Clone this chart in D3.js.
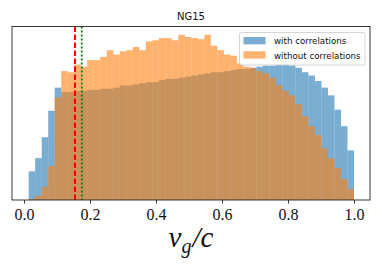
<!DOCTYPE html>
<html>
<head>
<meta charset="utf-8">
<title>NG15 group velocity</title>
<script src="https://d3js.org/d3.v7.min.js"></script>
<style>
  body { margin: 0; background: white; }
  svg { display: block; }
</style>
</head>
<body>
<script>
// histogram densities, 50 bins between binStart and binEnd
const binStart = 0.0142;
const binEnd = 1.0;
const withCorr = [
  0.26, 0.38, 0.57, 0.81, 1.02, 0.98, 0.98, 0.99, 0.99, 1.00,
  1.00, 1.01, 1.01, 1.02, 1.04, 1.04, 1.05, 1.06, 1.07, 1.07,
  1.09, 1.10, 1.10, 1.11, 1.12, 1.13, 1.14, 1.15, 1.16, 1.16,
  1.17, 1.18, 1.19, 1.19, 1.20, 1.21, 1.22, 1.22, 1.23, 1.23,
  1.22, 1.20, 1.16, 1.13, 1.08, 1.02, 0.95, 0.82, 0.67, 0.45
];
const withoutCorr = [
  0.01, 0.04, 0.12, 0.31, 0.93, 1.17, 1.16, 1.23, 1.21, 1.27,
  1.27, 1.30, 1.36, 1.32, 1.35, 1.36, 1.39, 1.36, 1.44, 1.45,
  1.47, 1.47, 1.45, 1.50, 1.48, 1.47, 1.46, 1.50, 1.40, 1.36,
  1.32, 1.31, 1.24, 1.21, 1.20, 1.17, 1.15, 1.11, 1.04, 0.99,
  0.95, 0.87, 0.76, 0.67, 0.59, 0.47, 0.38, 0.29, 0.19, 0.10
];
const seriesNames = ["with correlations", "without correlations"];
const xTicks = [0.0, 0.2, 0.4, 0.6, 0.8, 1.0];
const redLineX = 0.1545;   // dashed
const greenLineX = 0.175;  // dotted

const W = 382, H = 268;
const plot = {left: 12, right: 370, top: 26.5, bottom: 200};

var svg = d3.select("body").append("svg")
    .attr("width", W)
    .attr("height", H);

svg.append("rect").attr("width", W).attr("height", H).attr("fill", "white");

var x = d3.scaleLinear().domain([-0.0364, 1.0485]).range([plot.left, plot.right]);
var yMax = d3.max(withoutCorr.concat(withCorr)) * 1.05;
var y = d3.scaleLinear().domain([0, yMax]).range([plot.bottom, plot.top]);

var binW = (binEnd - binStart) / withCorr.length;

function drawHist(values, color) {
  svg.append("g").selectAll("rect")
    .data(values)
    .join("rect")
      .attr("x", (d, i) => x(binStart + i * binW))
      .attr("width", (d, i) => x(binStart + (i + 1) * binW) - x(binStart + i * binW))
      .attr("y", d => y(d))
      .attr("height", d => y(0) - y(d))
      .attr("fill", color)
      .attr("fill-opacity", 0.6);
}
drawHist(withCorr, "#1f77b4");
drawHist(withoutCorr, "#ff7f0e");

// vertical reference lines
svg.append("line")
    .attr("x1", x(redLineX)).attr("x2", x(redLineX))
    .attr("y1", plot.top).attr("y2", plot.bottom)
    .attr("stroke", "red").attr("stroke-width", 2)
    .attr("stroke-dasharray", "5.5,2.5");
svg.append("line")
    .attr("x1", x(greenLineX)).attr("x2", x(greenLineX))
    .attr("y1", plot.top).attr("y2", plot.bottom)
    .attr("stroke", "green").attr("stroke-width", 1.8)
    .attr("stroke-dasharray", "2,2");

// frame
svg.append("rect")
    .attr("x", plot.left).attr("y", plot.top)
    .attr("width", plot.right - plot.left).attr("height", plot.bottom - plot.top)
    .attr("fill", "none").attr("stroke", "#222").attr("stroke-width", 0.9);

// x axis
var xAxis = svg.append("g")
    .attr("transform", "translate(0," + plot.bottom + ")")
    .call(d3.axisBottom(x).tickValues(xTicks).tickFormat(d3.format(".1f")).tickSize(3.5).tickPadding(5));
xAxis.select(".domain").remove();
xAxis.selectAll("line").attr("stroke", "#222").attr("stroke-width", 0.9);
xAxis.selectAll("text")
    .attr("font-family", "'Liberation Serif', 'DejaVu Serif', serif")
    .attr("font-size", 16)
    .attr("fill", "#111");

// axis label v_g/c
var lab = svg.append("text")
    .attr("x", x(0.5) + 2).attr("y", 247)
    .attr("text-anchor", "middle")
    .attr("font-family", "'Liberation Serif', 'DejaVu Serif', serif")
    .attr("font-style", "italic")
    .attr("font-size", 29)
    .attr("fill", "#111");
lab.append("tspan").text("v");
lab.append("tspan").attr("dy", 6).attr("font-size", 20).text("g");
lab.append("tspan").attr("dy", -6).attr("dx", 1).text("/c");

// title
svg.append("text")
    .attr("x", 191).attr("y", 20)
    .attr("text-anchor", "middle")
    .attr("font-family", "'DejaVu Sans', sans-serif")
    .attr("font-size", 10)
    .attr("fill", "#111")
    .text("NG15");

// legend
var leg = svg.append("g");
leg.append("rect")
    .attr("x", 239.5).attr("y", 32.5).attr("width", 125.5).attr("height", 32.5)
    .attr("rx", 2)
    .attr("fill", "white").attr("fill-opacity", 0.8)
    .attr("stroke", "#ccc").attr("stroke-width", 0.8);
var legColors = ["#1f77b4", "#ff7f0e"];
seriesNames.forEach(function(name, i) {
  leg.append("rect")
      .attr("x", 243.5).attr("y", 37 + i * 14.3)
      .attr("width", 22).attr("height", 7.3)
      .attr("fill", legColors[i]).attr("fill-opacity", 0.6);
  leg.append("text")
      .attr("x", 274).attr("y", 44.2 + i * 14.3)
      .attr("font-family", "'DejaVu Sans', sans-serif")
      .attr("font-size", 8.7)
      .attr("fill", "#111")
      .text(name);
});
</script>
</body>
</html>
